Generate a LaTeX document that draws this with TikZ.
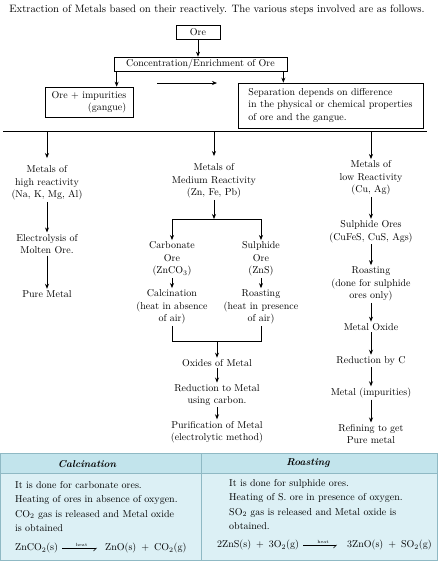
\documentclass[tikz,border=0pt]{standalone}
\usetikzlibrary{arrows.meta}
\definecolor{hdrc}{HTML}{C2E4EC}
\definecolor{bdyc}{HTML}{DCF0F5}
\definecolor{tblc}{HTML}{8FB9C4}
\begin{document}
\begin{tikzpicture}[x=1pt,y=-1pt,
  box/.style={draw, line width=0.7pt, inner sep=2pt, font=\fontsize{10}{12.5}\selectfont},
  lbl/.style={align=center, inner sep=1.5pt, font=\fontsize{10}{12.5}\selectfont},
  arr/.style={-{Stealth[length=5pt,width=4pt]}, line width=0.7pt},
  ln/.style={line width=0.7pt},
  cell/.style={align=left, anchor=north west, inner sep=0pt, font=\fontsize{10}{14.5}\selectfont},
  eqn/.style={anchor=west, inner sep=0pt, font=\fontsize{10}{12}\selectfont},
  harr/.style={-{Straight Barb[harpoon,swap,length=3pt]}, line width=0.45pt},
  heatlbl/.style={font=\fontsize{4.5}{5}\selectfont, inner sep=0.8pt},
  hcell/.style={font=\fontsize{10}{12}\selectfont\bfseries\itshape}
]
\useasboundingbox (0,0) rectangle (447,568);

\node[font=\fontsize{10.7}{12}\selectfont] (title) at (217,10) {Extraction of Metals based on their reactively. The various steps involved are as follows.};

\node[box, minimum width=44, minimum height=14] (ore) at (198,32) {Ore};
\node[box, minimum width=173, minimum height=14] (conc) at (200.5,64) {Concentration/Enrichment of Ore};
\node[box, align=right, minimum width=88, minimum height=30] (imp) at (89,102) {Ore + impurities\\(gangue)};
\node[box, align=left, minimum width=185, minimum height=45] (sep) at (330.5,105.5) {Separation depends on difference\\in the physical or chemical properties\\of ore and the gangue.};

\draw[arr] (ore.south) -- (ore.south |- conc.north);
\draw[arr] ([xshift=3pt]conc.south west) -- ([xshift=3pt]conc.south west |- imp.north);
\draw[arr] ([xshift=-4pt]conc.south east) -- ([xshift=-4pt]conc.south east |- sep.north);
\coordinate (ma) at (157,83);
\coordinate (mb) at (217,83);
\draw[arr] (ma) -- (mb);

\coordinate (hla) at (3,131);
\coordinate (hlb) at (427,131);
\draw[ln] (hla) -- (hlb);
\coordinate (d1) at (47,131);
\coordinate (d2) at (214,131);
\coordinate (d3) at (371,131);

% left column
\node[lbl] (high) at (47,183) {Metals of\\high reactivity\\(Na, K, Mg, Al)};
\node[lbl] (elec) at (47,244) {Electrolysis of\\Molten Ore.};
\node[lbl] (pure) at (47,294) {Pure Metal};
\draw[arr, shorten >=6pt] (d1) -- (high);
\draw[arr] (high) -- (elec);
\draw[arr] (elec) -- (pure);

% middle column
\node[lbl] (med) at (214,181) {Metals of\\Medium Reactivity\\(Zn, Fe, Pb)};
\draw[arr, shorten >=6pt] (d2) -- (med);
\coordinate (sp) at (214,219);
\coordinate (spl) at (172,219);
\coordinate (spr) at (261,219);
\draw[arr] (med) -- (sp);
\draw[ln] (spl) -- (spr);
\node[lbl] (carb) at (172,259) {Carbonate\\Ore\\(ZnCO$_3$)};
\node[lbl] (sulp) at (261,259) {Sulphide\\Ore\\(ZnS)};
\draw[arr] (spl) -- (carb);
\draw[arr] (spr) -- (sulp);
\node[lbl] (calc) at (172,307) {Calcination\\(heat in absence\\of air)};
\node[lbl] (roast) at (261,307) {Roasting\\(heat in presence\\of air)};
\draw[arr] (carb) -- (calc);
\draw[arr] (sulp) -- (roast);
\coordinate (jl) at (172,341);
\coordinate (jr) at (261,341);
\coordinate (jm) at (217,341);
\draw[ln] (calc.south) -- (jl) -- (jr) -- (roast.south);
\node[lbl] (oxm) at (217,363) {Oxides of Metal};
\node[lbl] (redm) at (217,395) {Reduction to Metal\\using carbon.};
\node[lbl] (purm) at (217,432) {Purification of Metal\\(electrolytic method)};
\draw[arr] (jm) -- (oxm);
\draw[arr] (oxm) -- (redm);
\draw[arr] (redm) -- (purm);

% right column
\node[lbl] (low) at (371,178) {Metals of\\low Reactivity\\(Cu, Ag)};
\node[lbl] (sulo) at (371,231.5) {Sulphide Ores\\(CuFeS, CuS, Ags)};
\node[lbl] (rroast) at (371,284) {Roasting\\(done for sulphide\\ores only)};
\node[lbl] (mox) at (371,327) {Metal Oxide};
\node[lbl] (redc) at (371,361) {Reduction by C};
\node[lbl] (mimp) at (371,393) {Metal (impurities)};
\node[lbl] (refn) at (371,434) {Refining to get\\Pure metal};
\draw[arr] (d3) -- (low);
\draw[arr] (low) -- (sulo);
\draw[arr] (sulo) -- (rroast);
\draw[arr] (rroast) -- (mox);
\draw[arr] (mox) -- (redc);
\draw[arr] (redc) -- (mimp);
\draw[arr] (mimp) -- (refn);

% table
\fill[bdyc] (0,453) rectangle (437,560);
\fill[hdrc] (0,453) rectangle (437,473);
\draw[tblc, line width=0.8pt] (0,453) rectangle (437,560);
\draw[tblc, line width=0.8pt] (0,473) -- (437,473);
\draw[tblc, line width=0.8pt] (201,453) -- (201,560);
\node[hcell] (hcalc) at (87,464) {Calcination};
\node[hcell] (hroast) at (308,463) {Roasting};
\node[cell] (ltext) at (15,481) {It is done for carbonate ores.\\Heating of ores in absence of oxygen.\\CO$_2$ gas is released and Metal oxide\\is obtained};
\node[cell] (rtext) at (229,479) {It is done for sulphide ores.\\Heating of S. ore in presence of oxygen.\\SO$_2$ gas is released and Metal oxide is\\obtained.};
\node[eqn] (leqa) at (15,548) {ZnCO$_2$(s)};
\node[eqn] (leqb) at (105,548) {ZnO(s)\enspace+\enspace CO$_2$(g)};
\draw[harr, shorten <=4pt, shorten >=8pt] (leqa) -- node[above, heatlbl] (lheat) {heat} (leqb);
\node[eqn] (reqa) at (217,545) {2ZnS(s)\enspace+\enspace 3O$_2$(g)};
\node[eqn] (reqb) at (347,545) {3ZnO(s)\enspace+\enspace SO$_2$(g)};
\draw[harr, shorten <=4pt, shorten >=10pt] (reqa) -- node[above, heatlbl] (rheat) {heat} (reqb);
\end{tikzpicture}
\end{document}
